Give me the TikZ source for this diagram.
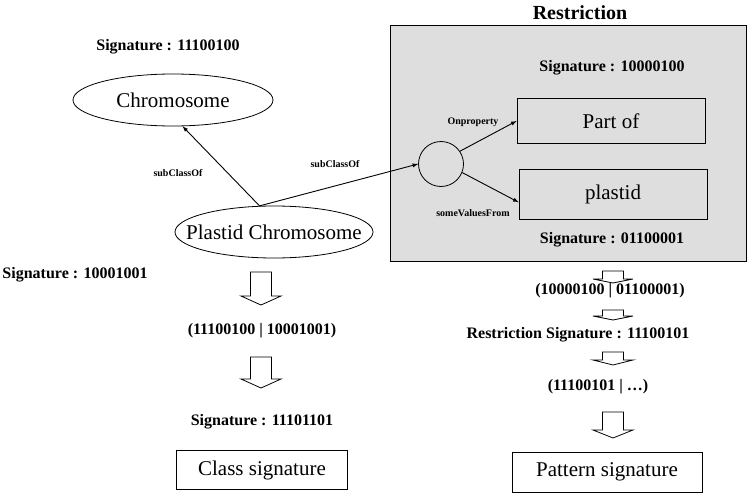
\documentclass[tikz,border=0pt]{standalone}
\usepackage{fontspec}
\setmainfont{Liberation Serif}
\usetikzlibrary{shapes.geometric}
\tikzset{
  sig/.style={font=\fontsize{16}{18}\selectfont\bfseries, inner sep=1pt},
  edgelabel/.style={font=\fontsize{10}{12}\selectfont\bfseries, inner sep=1pt},
  big/.style={font=\fontsize{21}{24}\selectfont, inner sep=0pt},
  ell/.style={draw, ellipse, line width=0.8pt, minimum width=200, minimum height=52, inner sep=0pt, font=\fontsize{21}{24}\selectfont},
  box/.style={draw, rectangle, line width=0.8pt, inner sep=0pt, font=\fontsize{21}{24}\selectfont},
  rel/.style={line width=0.9pt, ->, >=latex},
  hollow/.style={draw, line width=0.8pt},
  pics/hollowdown/.style 2 args={code={
    \draw[hollow] (-10.5,0) -- (10.5,0) -- (10.5,#1) -- (20,#1) -- (0,#1+#2) -- (-20,#1) -- (-10.5,#1) -- cycle;
  }}
}
\begin{document}
\begin{tikzpicture}[x=1pt,y=-1pt]
	\useasboundingbox (0,0) rectangle (747,495);

	\draw[line width=0.8pt, fill=black!13] (390,25) rectangle (746,261);%Restriction Kasten
	\node[font=\fontsize{20}{22}\selectfont\bfseries] (restrTitle) at (580,13) {Restriction};

	\node[sig] (sigChrom) at (168,47) {Signature : 11100100};
	\node[ell] (chrom) at (173,100) {Chromosome};
	\node[ell, minimum width=198] (plastidChrom) at (274,232) {};
	\node[big] (plastidTxt) at (plastidChrom) {Plastid Chromosome};
	\node[sig] (sigPlastid) at (75,275) {Signature : 10001001};

	\node[draw, circle, line width=0.8pt, minimum size=45, inner sep=0pt] (restr) at (441,164) {};
	\node[box, minimum width=188, minimum height=45] (partOf) at (611,121) {Part of};
	\node[box, minimum width=188, minimum height=50] (plastid) at (613,194) {plastid};
	\node[sig] (sigPart) at (612,68) {Signature : 10000100};
	\node[sig] (sigVal) at (612,240) {Signature : 01100001};

	\draw[rel] (plastidChrom.119) -- (chrom.-70);%subClassOf links
	\draw[rel] (plastidChrom.119) -- (restr.west);%subClassOf rechts
	\draw[rel] (restr.34) -- (partOf.west);
	\draw[rel] (restr.-22) -- (plastid.185);

	\node[edgelabel] (lblSub1) at (178,173) {subClassOf};
	\node[edgelabel] (lblSub2) at (335,164) {subClassOf};
	\node[edgelabel] (lblProp) at (473,122) {Onproperty};
	\node[edgelabel] (lblVal) at (473,213) {someValuesFrom};

	%linke Spalte
	\pic (hL1) at (261,272) {hollowdown={24}{9}};
	\node[sig] (orClass) at (262,331) {(11100100 | 10001001)};
	\pic (hL2) at (261,357) {hollowdown={22}{9}};
	\node[sig] (sigClass) at (262,422) {Signature : 11101101};
	\node[box, minimum width=171, minimum height=39] (classSig) at (262,470) {Class signature};

	%rechte Spalte
	\pic (hR1) at (613,271) {hollowdown={8}{4}};
	\node[sig] (orRestr) at (610,291) {(10000100 | 01100001)};
	\pic (hR2) at (613,310) {hollowdown={6}{4}};
	\node[sig] (sigRestr) at (578,335) {Restriction Signature : 11100101};
	\pic (hR3) at (613,352) {hollowdown={8}{5}};
	\node[sig] (orPattern) at (598,387) {(11100101 | …)};
	\pic (hR4) at (613,412) {hollowdown={18}{8}};
	\node[box, minimum width=190, minimum height=40] (patternSig) at (607,472) {Pattern signature};
\end{tikzpicture}
\end{document}
